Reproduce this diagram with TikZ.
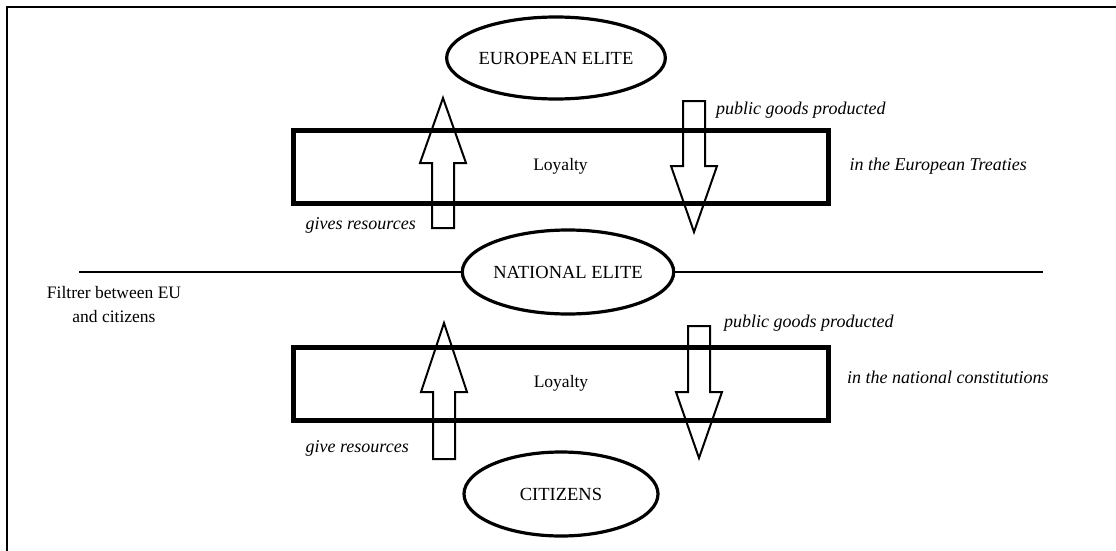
\documentclass[tikz,border=0pt]{standalone}
\usepackage{fontspec}
\setmainfont{Liberation Serif}
\usetikzlibrary{calc,shapes.geometric,positioning}

\begin{document}
\begin{tikzpicture}[x=1pt, y=-1pt,
  elite/.style={draw, ellipse, line width=3.2pt, inner sep=0pt,
                font=\fontsize{18.5}{20}\selectfont},
  loybox/.style={draw, rectangle, line width=5pt, minimum width=535pt,
                 minimum height=73pt, inner sep=0pt,
                 font=\fontsize{17.5}{20}\selectfont},
  flowtext/.style={font=\fontsize{18}{20}\selectfont\itshape, inner sep=0pt},
  blockarrow/.style={line width=2pt, line join=miter}]

\useasboundingbox (0,0) rectangle (1116,551);

% ---- Frame (top and left) ----
\draw[line width=2.5pt] (7,551) -- (7,7) -- (1116,7);

% ---- Elites and citizens ----
\node[elite, minimum width=186pt, minimum height=82pt] (eu)  at (556,58)  {EUROPEAN ELITE};
\node[elite, minimum width=204pt, minimum height=84pt] (nat) at (568,272) {NATIONAL ELITE};
\node[elite, minimum width=194pt, minimum height=84pt] (cit) at (561,494) {CITIZENS};

% ---- Loyalty boxes ----
\node[loybox] (loyEU)  at (560.5,166.5) {Loyalty};
\node[loybox] (loyNat) at (561,383.5)   {Loyalty};

% ---- Filter line through the national elite ----
\coordinate (filtL) at (79,272);
\coordinate (filtR) at (1043,272);
\draw[line width=2pt] (filtL) -- (nat.west);
\draw[line width=2pt] (nat.east) -- (filtR);
\node[font=\fontsize{17.5}{24}\selectfont, align=center] (filt) at (114,305)
  {Filtrer between EU\\and citizens};

% ---- Block arrows (x / tail / head base / tip) ----
\foreach \ax/\at/\ab/\ap in {443/228/163/98, 694/101/166/232,
                             444/459/392/323, 699/326/392/458}
  \draw[blockarrow] (\ax-11,\at) -- (\ax-11,\ab) -- (\ax-23,\ab) -- (\ax,\ap)
    -- (\ax+23,\ab) -- (\ax+11,\ab) -- (\ax+11,\at) -- cycle;

% ---- Labels, upper level ----
\node[flowtext, anchor=west] (pubEU) at (716,110) {public goods producted};
\node[flowtext, anchor=west] (treEU) at ($(loyEU.east)+(19,0)$) {in the European Treaties};
\node[flowtext, anchor=east] (givEU) at (416,225) {gives resources};

% ---- Labels, national level ----
\node[flowtext, anchor=west] (pubNat) at (724,323) {public goods producted};
\node[flowtext, anchor=west] (conNat) at ($(loyNat.east)+(16,-6)$) {in the national constitutions};
\node[flowtext, anchor=east] (givNat) at (409,448) {give resources};

\end{tikzpicture}
\end{document}
